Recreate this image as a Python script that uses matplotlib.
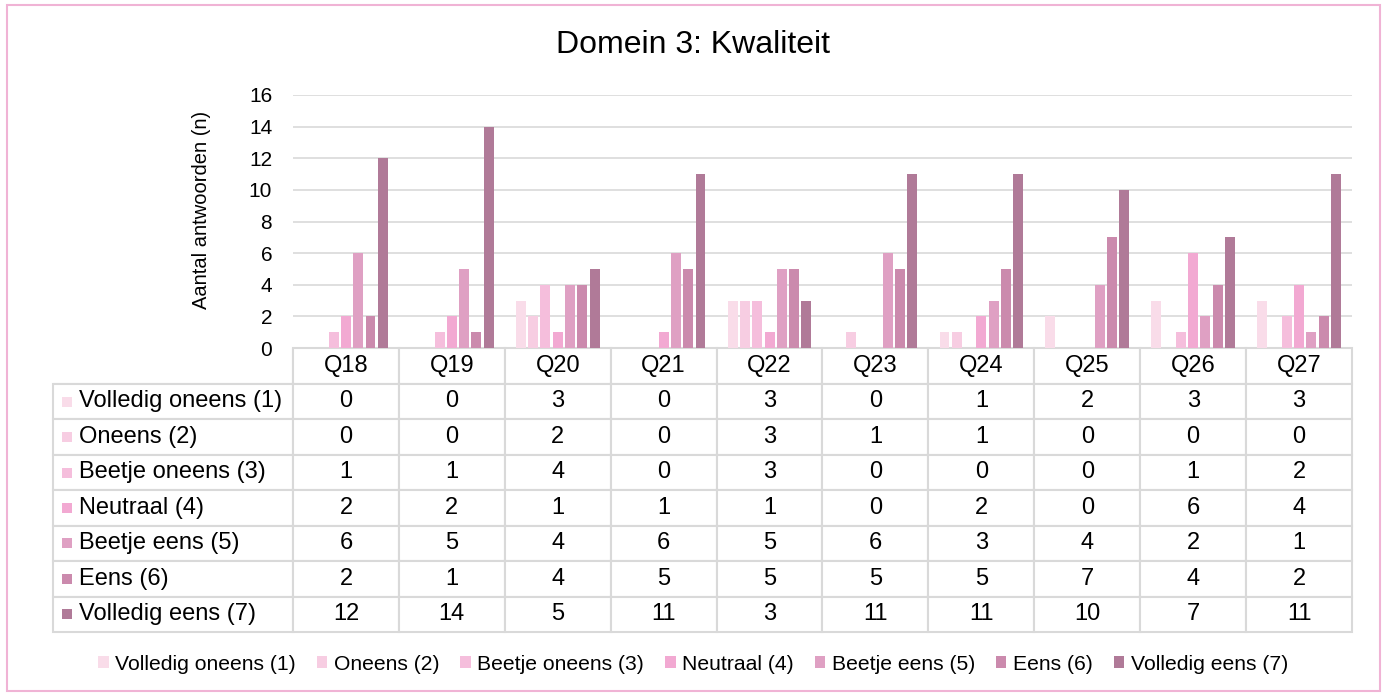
import matplotlib
matplotlib.use("Agg")
import matplotlib.pyplot as plt
from matplotlib.patches import Rectangle

plt.rcParams['font.family'] = ['Liberation Sans', 'DejaVu Sans']

# Daten
vragen = ["Q18", "Q19", "Q20", "Q21", "Q22", "Q23", "Q24", "Q25", "Q26", "Q27"]
categorieen = ["Volledig oneens (1)", "Oneens (2)", "Beetje oneens (3)", "Neutraal (4)",
               "Beetje eens (5)", "Eens (6)", "Volledig eens (7)"]
volledig_oneens = [0, 0, 3, 0, 3, 0, 1, 2, 3, 3]
oneens = [0, 0, 2, 0, 3, 1, 1, 0, 0, 0]
beetje_oneens = [1, 1, 4, 0, 3, 0, 0, 0, 1, 2]
neutraal = [2, 2, 1, 1, 1, 0, 2, 0, 6, 4]
beetje_eens = [6, 5, 4, 6, 5, 6, 3, 4, 2, 1]
eens = [2, 1, 4, 5, 5, 5, 5, 7, 4, 2]
volledig_eens = [12, 14, 5, 11, 3, 11, 11, 10, 7, 11]
reeksen = [volledig_oneens, oneens, beetje_oneens, neutraal, beetje_eens, eens, volledig_eens]

kleuren = ["#F9DCE9", "#F7CDE2", "#F5BEDC", "#F2A9D2", "#DFA0C3", "#CB8AAD", "#B07A98"]
rand = "#D9D9D9"

W, H = 1386, 696
fig = plt.figure(figsize=(W / 100, H / 100), dpi=100)
fig.patch.set_facecolor("white")

# Plotbereich in Pixeln
x0, x1, y_top, y_bot = 293, 1352, 95, 348
ax = fig.add_axes([x0 / W, 1 - y_bot / H, (x1 - x0) / W, (y_bot - y_top) / H])

x = range(len(vragen))
breedte = 0.094
stap = 0.116
handles = []
for i, (reeks, kleur) in enumerate(zip(reeksen, kleuren)):
    b = ax.bar([xi + (i - 3) * stap for xi in x], reeks, width=breedte, color=kleur,
               label=categorieen[i], zorder=3)
    handles.append(b)

ax.set_xlim(-0.5, len(vragen) - 0.5)
ax.set_ylim(0, 16)
ax.set_yticks(range(0, 17, 2))
ax.yaxis.grid(True, color=rand, linewidth=1.2, zorder=0)
ax.set_xticks([])
for s in ax.spines.values():
    s.set_visible(False)
ax.tick_params(axis="y", length=0, pad=15, labelsize=15)
ax.set_ylabel("Aantal antwoorden (n)", fontsize=14.5)
ax.yaxis.set_label_coords(-(x0 - 211) / (x1 - x0), 0.545)

# Datatabel onder de grafiek (eerste kolom = labels)
ax_w = x1 - x0
ax_h = y_bot - y_top
tabel_onder = 632
tabel_links = 53
cel_tekst = [[cat] + [str(v) for v in reeks] for cat, reeks in zip(categorieen, reeksen)]
tabel = ax.table(cellText=cel_tekst, colLabels=[""] + vragen, cellLoc="center",
                 bbox=[-(x0 - tabel_links) / ax_w, -(tabel_onder - y_bot) / ax_h,
                       (x1 - tabel_links) / ax_w, (tabel_onder - y_bot) / ax_h])
tabel.auto_set_font_size(False)
tabel.set_fontsize(17)
for (r, c), cel in tabel.get_celld().items():
    cel.set_edgecolor(rand)
    cel.set_linewidth(1.5)
    cel.set_width((240 if c == 0 else 105.9) / ax_w)
    if c == 0:
        cel.get_text().set_horizontalalignment("left")
        cel._loc = "left"
        cel.PAD = 26 / 240
    if r == 0 and c == 0:
        cel.visible_edges = "BR"

# Kleurvakjes voor de rijlabels
rij_h = (tabel_onder - 384) / 7
for i, kleur in enumerate(kleuren):
    yc = 384 + rij_h * (i + 0.5)
    ax.add_patch(Rectangle(((62 - x0) / ax_w, (y_bot - yc - 5) / ax_h),
                           10 / ax_w, 10 / ax_h, transform=ax.transAxes,
                           facecolor=kleur, edgecolor="none", clip_on=False))

# Titel
fig.text(0.5, 1 - 45 / H, "Domein 3: Kwaliteit", ha="center", va="center", fontsize=23)

# Legenda
fig.legend(handles=handles, labels=categorieen, loc="center", ncol=7,
           bbox_to_anchor=(0.5, 1 - 664 / H), frameon=False, fontsize=15.2,
           handlelength=0.5, handleheight=0.5, handletextpad=0.3, columnspacing=1.0)

# Roze rand rond de figuur
fig.add_artist(Rectangle((7 / W, 5 / H), (1380 - 7) / W, (691 - 5) / H,
                         transform=fig.transFigure, fill=False,
                         edgecolor="#F0B3D5", linewidth=1.5))

fig.savefig("out.png", dpi=100)
